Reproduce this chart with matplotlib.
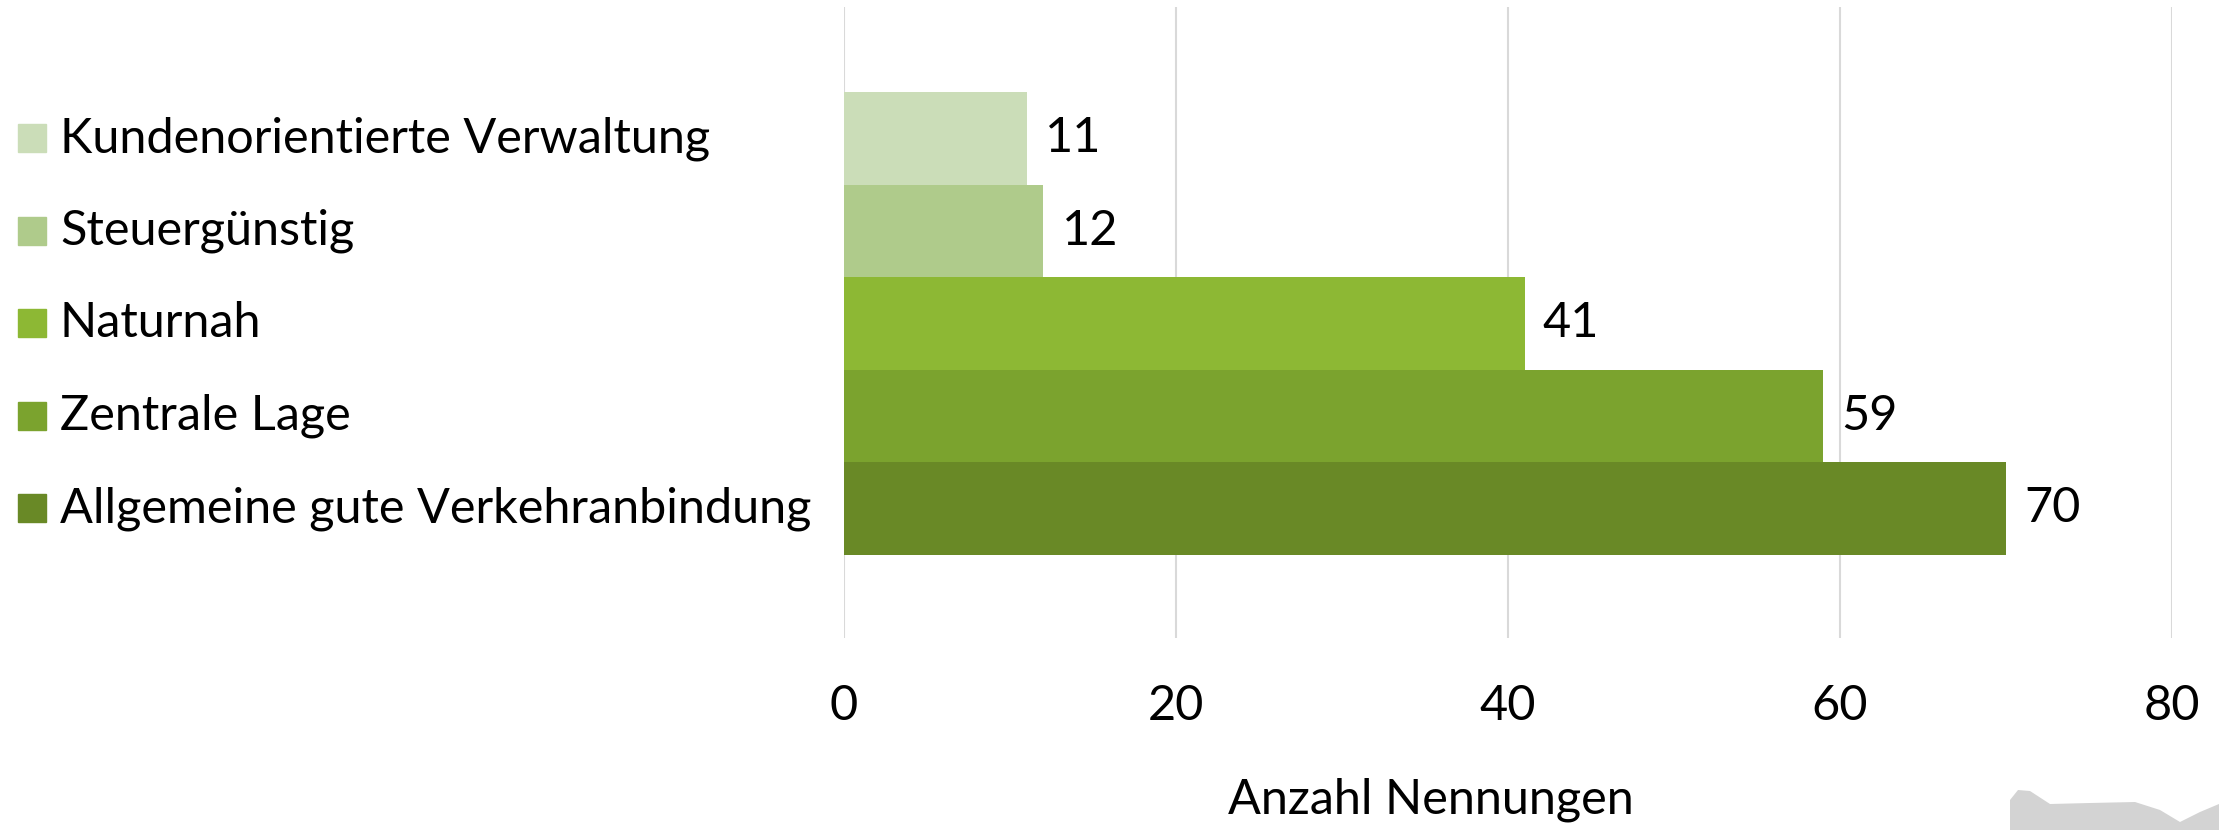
import matplotlib
matplotlib.use("Agg")
import matplotlib.pyplot as plt
from matplotlib.transforms import blended_transform_factory
from matplotlib.patches import Polygon

# data (bottom to top)
categories = ["Allgemeine gute Verkehranbindung", "Zentrale Lage", "Naturnah",
              "Steuergünstig", "Kundenorientierte Verwaltung"]
values = [70, 59, 41, 12, 11]
colors = ["#698926", "#7BA32E", "#8DB834", "#AFCB8B", "#CBDDB8"]
xticks = [0, 20, 40, 60, 80]
xlabel = "Anzahl Nennungen"

plt.rcParams['font.family'] = ['Lato', 'DejaVu Sans']
fs = 35

fig = plt.figure(figsize=(22.19, 8.30), dpi=100)
ax = fig.add_axes([0.3804, 0.2313, 0.5984, 0.7603])

ypos = list(range(len(categories)))
ax.barh(ypos, values, height=1.0, color=colors, zorder=2)

# value labels
for y, v in zip(ypos, values):
    ax.text(v + 1.1, y, str(v), va='center', ha='left', fontsize=fs, color='black')

ax.set_xlim(0, 80)
ax.set_ylim(-1.40, 5.42)
ax.set_xticks(xticks)
ax.set_xticklabels([str(t) for t in xticks])
ax.set_yticks([])
ax.tick_params(axis='x', length=0, pad=33, labelsize=fs)
for s in ax.spines.values():
    s.set_visible(False)
ax.xaxis.grid(True, color='#D9D9D9', linewidth=1.5, zorder=0)
ax.set_axisbelow(True)

# legend on the left, aligned with the bars
trans = blended_transform_factory(fig.transFigure, ax.transData)
for y, cat, c in zip(ypos, categories, colors):
    ax.plot([32 / 2219], [y], marker='s', markersize=20, color=c, transform=trans, clip_on=False)
    ax.text(60 / 2219, y, cat, transform=trans, va='center', ha='left', fontsize=fs, color='black')

fig.text(0.645, 0.036, xlabel, ha='center', va='center', fontsize=fs, color='black')

# grey decoration bottom right
blob = [(2010, 830), (2010, 800), (2018, 790), (2030, 791), (2050, 804), (2090, 803),
        (2135, 802), (2160, 810), (2180, 822), (2200, 812), (2219, 804), (2219, 830)]
fig.patches.append(Polygon([(x / 2219, 1 - y / 830) for x, y in blob], closed=True,
                           facecolor='#D3D3D3', edgecolor='none', transform=fig.transFigure))

fig.savefig("out.png", dpi=100, facecolor='white')
